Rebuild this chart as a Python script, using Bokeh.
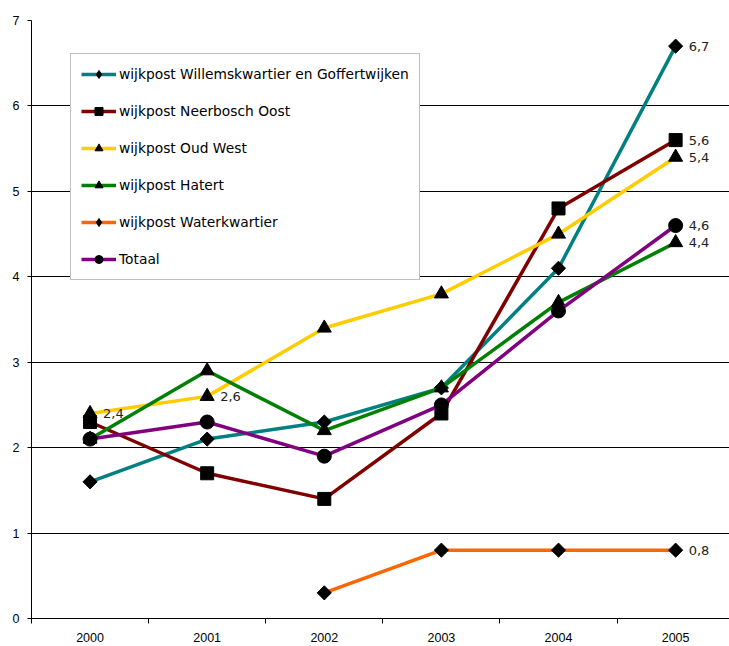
import numpy as np
from bokeh.plotting import figure
from bokeh.models import (Range1d, FixedTicker, Legend, LegendItem, ColumnDataSource,
                          NumeralTickFormatter)
from bokeh.core.properties import value
from bokeh.embed import file_html
from bokeh.resources import INLINE

years = [2000, 2001, 2002, 2003, 2004, 2005]
series_names = [
    "wijkpost Willemskwartier en Goffertwijken",
    "wijkpost Neerbosch Oost",
    "wijkpost Oud West",
    "wijkpost Hatert",
    "wijkpost Waterkwartier",
    "Totaal",
]
willemskwartier = [1.6, 2.1, 2.3, 2.7, 4.1, 6.7]
neerbosch_oost = [2.3, 1.7, 1.4, 2.4, 4.8, 5.6]
oud_west = [2.4, 2.6, 3.4, 3.8, 4.5, 5.4]
hatert = [2.1, 2.9, 2.2, 2.7, 3.7, 4.4]
waterkwartier = [np.nan, np.nan, 0.3, 0.8, 0.8, 0.8]
totaal = [2.1, 2.3, 1.9, 2.5, 3.6, 4.6]
y_ticks = [0, 1, 2, 3, 4, 5, 6, 7]

colors = ["#008080", "#800000", "#FFCC00", "#008000", "#FF6600", "#800080"]
markers = ["diamond", "square", "triangle", "triangle", "diamond", "circle"]
all_values = [willemskwartier, neerbosch_oost, oud_west, hatert, waterkwartier, totaal]

p = figure(width=729, height=646, output_backend="svg", toolbar_location=None,
           x_range=Range1d(1999.5, 2005.46), y_range=Range1d(0, 7),
           min_border_left=31, min_border_right=0, min_border_top=20, min_border_bottom=28)
p.outline_line_color = None
p.background_fill_color = "white"
p.border_fill_color = "white"

p.xgrid.visible = False
p.ygrid.ticker = FixedTicker(ticks=y_ticks)
p.ygrid.grid_line_color = "black"
p.ygrid.grid_line_width = 1

p.xaxis.ticker = FixedTicker(ticks=years, minor_ticks=[y - 0.5 for y in years] + [years[-1] + 0.5])
p.xaxis.formatter = NumeralTickFormatter(format="0")
p.xaxis.major_tick_out = 0
p.xaxis.major_tick_in = 0
p.xaxis.minor_tick_out = 5
p.xaxis.minor_tick_in = 0
p.xaxis.minor_tick_line_color = "black"
p.xaxis.axis_line_color = "black"
p.xaxis.major_label_standoff = 9

p.yaxis.ticker = FixedTicker(ticks=y_ticks)
p.yaxis.major_tick_out = 4
p.yaxis.major_tick_in = 0
p.yaxis.minor_tick_out = 0
p.yaxis.axis_line_color = "black"
p.yaxis.major_label_standoff = 8

for ax in (p.xaxis, p.yaxis):
    ax.major_label_text_font = "Liberation Sans"
    ax.major_label_text_font_size = "12.5px"
    ax.major_label_text_color = "black"

items = []
for name, vals, col, mk in zip(series_names, all_values, colors, markers):
    src = ColumnDataSource(dict(x=years, y=vals))
    ln = p.line("x", "y", source=src, line_color=col, line_width=3.5)
    if mk == "diamond":
        sc = p.scatter("x", "y", source=src, marker="square", angle=np.pi / 4, size=10,
                       fill_color="black", line_color="black")
        # legend-only diamond (no visible data)
        dummy = ColumnDataSource(dict(x=[years[0]], y=[np.nan]))
        lg = p.scatter("x", "y", source=dummy, marker="diamond", size=15,
                       fill_color="black", line_color="black")
        items.append(LegendItem(label=name, renderers=[ln, lg]))
        continue
    elif mk == "square":
        sc = p.scatter("x", "y", source=src, marker="square", size=13,
                       fill_color="black", line_color="black")
    elif mk == "triangle":
        sc = p.scatter("x", "y", source=src, marker="triangle", size=14,
                       fill_color="black", line_color="black")
    else:
        sc = p.scatter("x", "y", source=src, marker="circle", size=14,
                       fill_color="black", line_color="black")
    items.append(LegendItem(label=name, renderers=[ln, sc]))

# data labels: last value of each series, plus first two of Oud West
lx, ly, lt = [], [], []
for vals in all_values:
    lx.append(years[-1]); ly.append(vals[-1]); lt.append(f"{vals[-1]:.1f}".replace(".", ","))
for i in (0, 1):
    lx.append(years[i]); ly.append(oud_west[i]); lt.append(f"{oud_west[i]:.1f}".replace(".", ","))
p.text(x=lx, y=ly, text=lt, x_offset=13, text_baseline="middle", text_align="left",
       text_font=value("DejaVu Sans"), text_font_size="13px", text_color="#222222")

legend = Legend(items=items, location=(39, 338))
legend.label_text_font = "DejaVu Sans"
legend.label_text_font_size = "13.8px"
legend.label_text_color = "black"
legend.glyph_width = 35
legend.glyph_height = 20
legend.label_height = 20
legend.label_standoff = 3
legend.spacing = 17
legend.padding = 10
legend.margin = 0
legend.border_line_color = "#808080"
legend.border_line_width = 1
legend.background_fill_alpha = 1
p.add_layout(legend, "center")

open("out.html", "w").write(file_html(p, INLINE))
